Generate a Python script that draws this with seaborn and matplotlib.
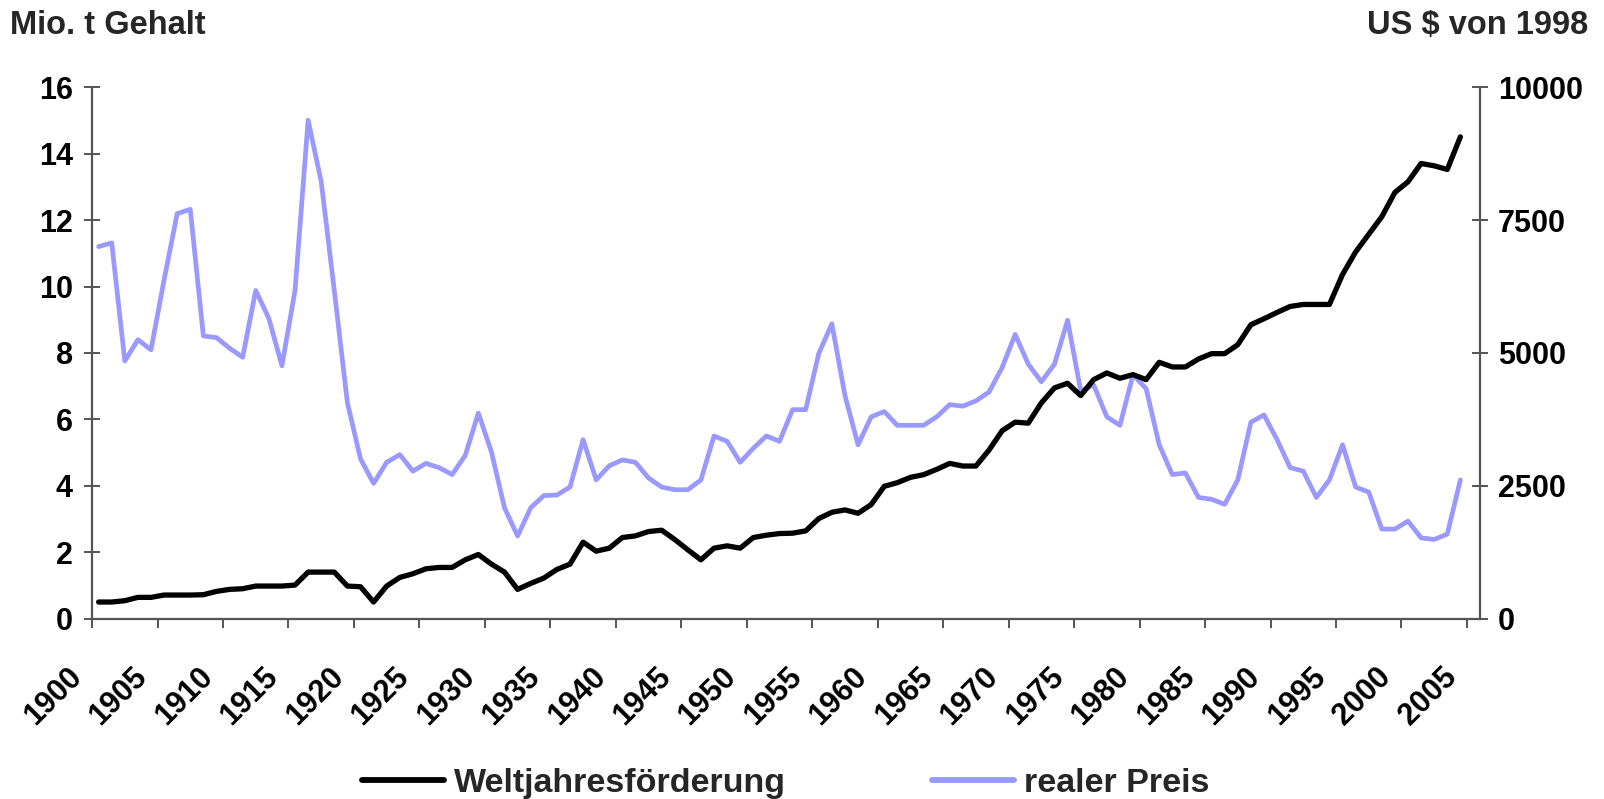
import matplotlib
matplotlib.use("Agg")
import matplotlib.pyplot as plt
import matplotlib.transforms as mtransforms
from matplotlib.lines import Line2D
import seaborn as sns

# Data: world copper production (Mio. t) and real price (US$ of 1998)
years = list(range(1900, 2005))

production = [
    0.51, 0.51, 0.55, 0.65, 0.65, 0.72, 0.72, 0.72, 0.73, 0.83,
    0.89, 0.91, 0.99, 0.99, 0.99, 1.02, 1.41, 1.41, 1.41, 0.99,
    0.97, 0.51, 0.99, 1.25, 1.36, 1.51, 1.55, 1.55, 1.78, 1.94,
    1.65, 1.41, 0.89, 1.07, 1.23, 1.49, 1.65, 2.31, 2.04, 2.13,
    2.45, 2.50, 2.63, 2.67, 2.39, 2.08, 1.78, 2.13, 2.20, 2.13,
    2.45, 2.52, 2.57, 2.58, 2.65, 3.02, 3.21, 3.28, 3.18, 3.44,
    3.99, 4.10, 4.26, 4.34, 4.50, 4.68, 4.60, 4.60, 5.08, 5.66,
    5.92, 5.89, 6.50, 6.95, 7.09, 6.72, 7.20, 7.40, 7.24, 7.35,
    7.20, 7.72, 7.58, 7.58, 7.82, 7.98, 7.98, 8.25, 8.85, 9.03,
    9.22, 9.40, 9.46, 9.46, 9.46, 10.36, 11.04, 11.57, 12.10, 12.83,
    13.15, 13.70, 13.63, 13.52, 14.50,
]

price = [
    7000, 7070, 4850, 5250, 5060, 6375, 7620, 7700, 5320, 5290,
    5090, 4920, 6175, 5650, 4760, 6175, 9375, 8220, 6175, 4065,
    3010, 2550, 2945, 3090, 2780, 2925, 2845, 2715, 3075, 3870,
    3140, 2090, 1560, 2090, 2320, 2330, 2480, 3370, 2615, 2880,
    2990, 2945, 2650, 2480, 2430, 2430, 2615, 3440, 3340, 2945,
    3210, 3440, 3340, 3935, 3935, 4990, 5550, 4200, 3275, 3800,
    3900, 3640, 3640, 3640, 3800, 4030, 4000, 4100, 4265, 4725,
    5350, 4790, 4460, 4790, 5615, 4295, 4395, 3800, 3640, 4590,
    4330, 3275, 2715, 2745, 2285, 2250, 2155, 2615, 3700, 3835,
    3370, 2845, 2780, 2285, 2615, 3275, 2480, 2385, 1690, 1690,
    1840, 1525, 1495, 1595, 2615,
]

label_years = list(range(1900, 2006, 5))
left_ticks = [0, 2, 4, 6, 8, 10, 12, 14, 16]
right_ticks = [0, 2500, 5000, 7500, 10000]

black = "#000000"
blue = "#9999ff"
axis_grey = "#555555"

sns.set_theme(style="white")
plt.rcParams['font.family'] = ['Liberation Sans', 'DejaVu Sans']
plt.rcParams['font.weight'] = 'bold'

fig = plt.figure(figsize=(16.04, 7.99), dpi=100)
ax = fig.add_axes([0.0574, 0.2253, 0.8653, 0.6658])
ax2 = ax.twinx()

sns.lineplot(x=years, y=price, ax=ax2, color=blue, linewidth=3.4, legend=False)
sns.lineplot(x=years, y=production, ax=ax, color=black, linewidth=3.8, legend=False)
for ln in ax.lines + ax2.lines:
    ln.set_solid_joinstyle('round')
    ln.set_solid_capstyle('round')

# black line drawn above the blue one
ax.set_zorder(ax2.get_zorder() + 1)
ax.patch.set_visible(False)

ax.set_xlim(1899.5, 2005.5)
ax.set_ylim(0, 16)
ax2.set_ylim(0, 10000)

for a in (ax, ax2):
    for s in a.spines.values():
        s.set_visible(False)
    a.grid(False)
    a.set_xlabel("")
    a.set_ylabel("")

ax.spines['left'].set_visible(True)
ax.spines['bottom'].set_visible(True)
ax2.spines['right'].set_visible(True)
for s in (ax.spines['left'], ax.spines['bottom'], ax2.spines['right']):
    s.set_color(axis_grey)
    s.set_linewidth(1.6)

# y axes
ax.set_yticks(left_ticks)
ax.set_yticklabels([str(v) for v in left_ticks])
ax.tick_params(axis='y', which='major', direction='inout', length=12, width=1.4,
               color=axis_grey, labelsize=22, pad=8, left=True)
ax2.set_yticks(right_ticks)
ax2.set_yticklabels([str(v) for v in right_ticks])
ax2.tick_params(axis='y', which='major', direction='inout', length=12, width=1.4,
                color=axis_grey, labelsize=22, pad=7, right=True)

# x axis: ticks between categories, labels on categories
ax.set_xticks(label_years)
ax.set_xticklabels([str(y) for y in label_years])
ax.set_xticks([y - 0.5 for y in label_years], minor=True)
ax.tick_params(axis='x', which='major', length=0, labelsize=22, pad=31)
ax.tick_params(axis='x', which='minor', direction='out', length=6.5, width=1.4,
               color=axis_grey, bottom=True)
offset = mtransforms.ScaledTranslation(-0.32, 0, fig.dpi_scale_trans)
for lab in ax.get_xticklabels():
    lab.set_rotation(45)
    lab.set_ha('right')
    lab.set_rotation_mode('anchor')
    lab.set_transform(lab.get_transform() + offset)

for lab in ax.get_yticklabels() + ax2.get_yticklabels() + ax.get_xticklabels():
    lab.set_fontweight('bold')
    lab.set_color('black')

fig.text(0.006, 0.968, "Mio. t Gehalt", fontsize=23.5, fontweight='bold', ha='left', va='center')
fig.text(0.990, 0.968, "US $ von 1998", fontsize=23.5, fontweight='bold', ha='right', va='center')

handles = [Line2D([], [], color=black, linewidth=4.2),
           Line2D([], [], color=blue, linewidth=4.2)]
fig.legend(handles, ["Weltjahresförderung", "realer Preis"], loc='center',
           bbox_to_anchor=(0.49, 0.02), ncol=2, frameon=False,
           prop={'size': 24.5, 'weight': 'bold'}, handlelength=2.4,
           handletextpad=0.3, columnspacing=4.3)

fig.savefig("out.png", dpi=100)
